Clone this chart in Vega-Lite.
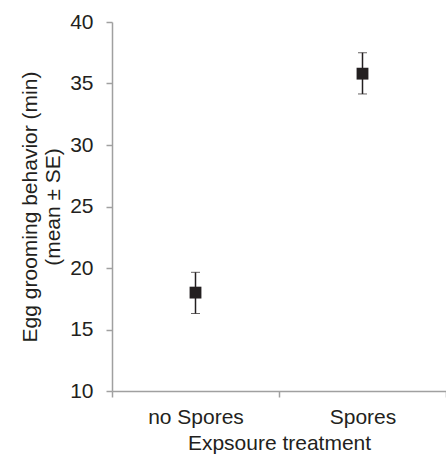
{
  "$schema": "https://vega.github.io/schema/vega-lite/v6.json",
  "width": 334,
  "height": 369,
  "autosize": {"type": "none"},
  "padding": {"left": 112, "top": 22, "right": 0, "bottom": 66},
  "background": "white",
  "config": {
    "view": {"stroke": null},
    "font": "Liberation Sans",
    "axis": {
      "grid": false,
      "domainColor": "#a0a0a0",
      "domainWidth": 1.5,
      "tickColor": "#a0a0a0",
      "tickWidth": 1.5,
      "labelColor": "#231f20",
      "titleColor": "#231f20",
      "labelFont": "Liberation Sans",
      "titleFont": "Liberation Sans",
      "titleFontWeight": "normal"
    }
  },
  "data": {
    "values": [
      {"treatment": "no Spores", "mean": 18.0, "lo": 16.3, "hi": 19.65},
      {"treatment": "Spores", "mean": 35.8, "lo": 34.15, "hi": 37.5}
    ]
  },
  "encoding": {
    "x": {
      "field": "treatment",
      "type": "nominal",
      "sort": ["no Spores", "Spores"],
      "scale": {"paddingInner": 0, "paddingOuter": 0},
      "axis": {
        "title": "Expsoure treatment",
        "labelAngle": 0,
        "labelFontSize": 21,
        "titleFontSize": 21,
        "tickBand": "extent",
        "tickSize": 6,
        "labelPadding": 9,
        "titlePadding": 5
      }
    }
  },
  "layer": [
    {
      "mark": {"type": "errorbar", "ticks": {"size": 9, "color": "#231f20", "strokeWidth": 1.5}, "rule": {"color": "#231f20", "strokeWidth": 1.5}},
      "encoding": {
        "y": {
          "field": "lo",
          "type": "quantitative",
          "scale": {"domain": [10, 40], "nice": false, "zero": false},
          "axis": {
            "title": ["Egg grooming behavior (min)", "(mean ± SE)"],
            "values": [10, 15, 20, 25, 30, 35, 40],
            "labelFontSize": 21,
            "titleFontSize": 21,
            "titleLineHeight": 23,
            "tickSize": 6,
            "labelPadding": 13,
            "titleX": -93,
            "titleBaseline": "top"
          }
        },
        "y2": {"field": "hi"}
      }
    },
    {
      "mark": {"type": "point", "shape": "square", "filled": true, "size": 140, "color": "#231f20", "opacity": 1},
      "encoding": {
        "y": {"field": "mean", "type": "quantitative"}
      }
    }
  ]
}
